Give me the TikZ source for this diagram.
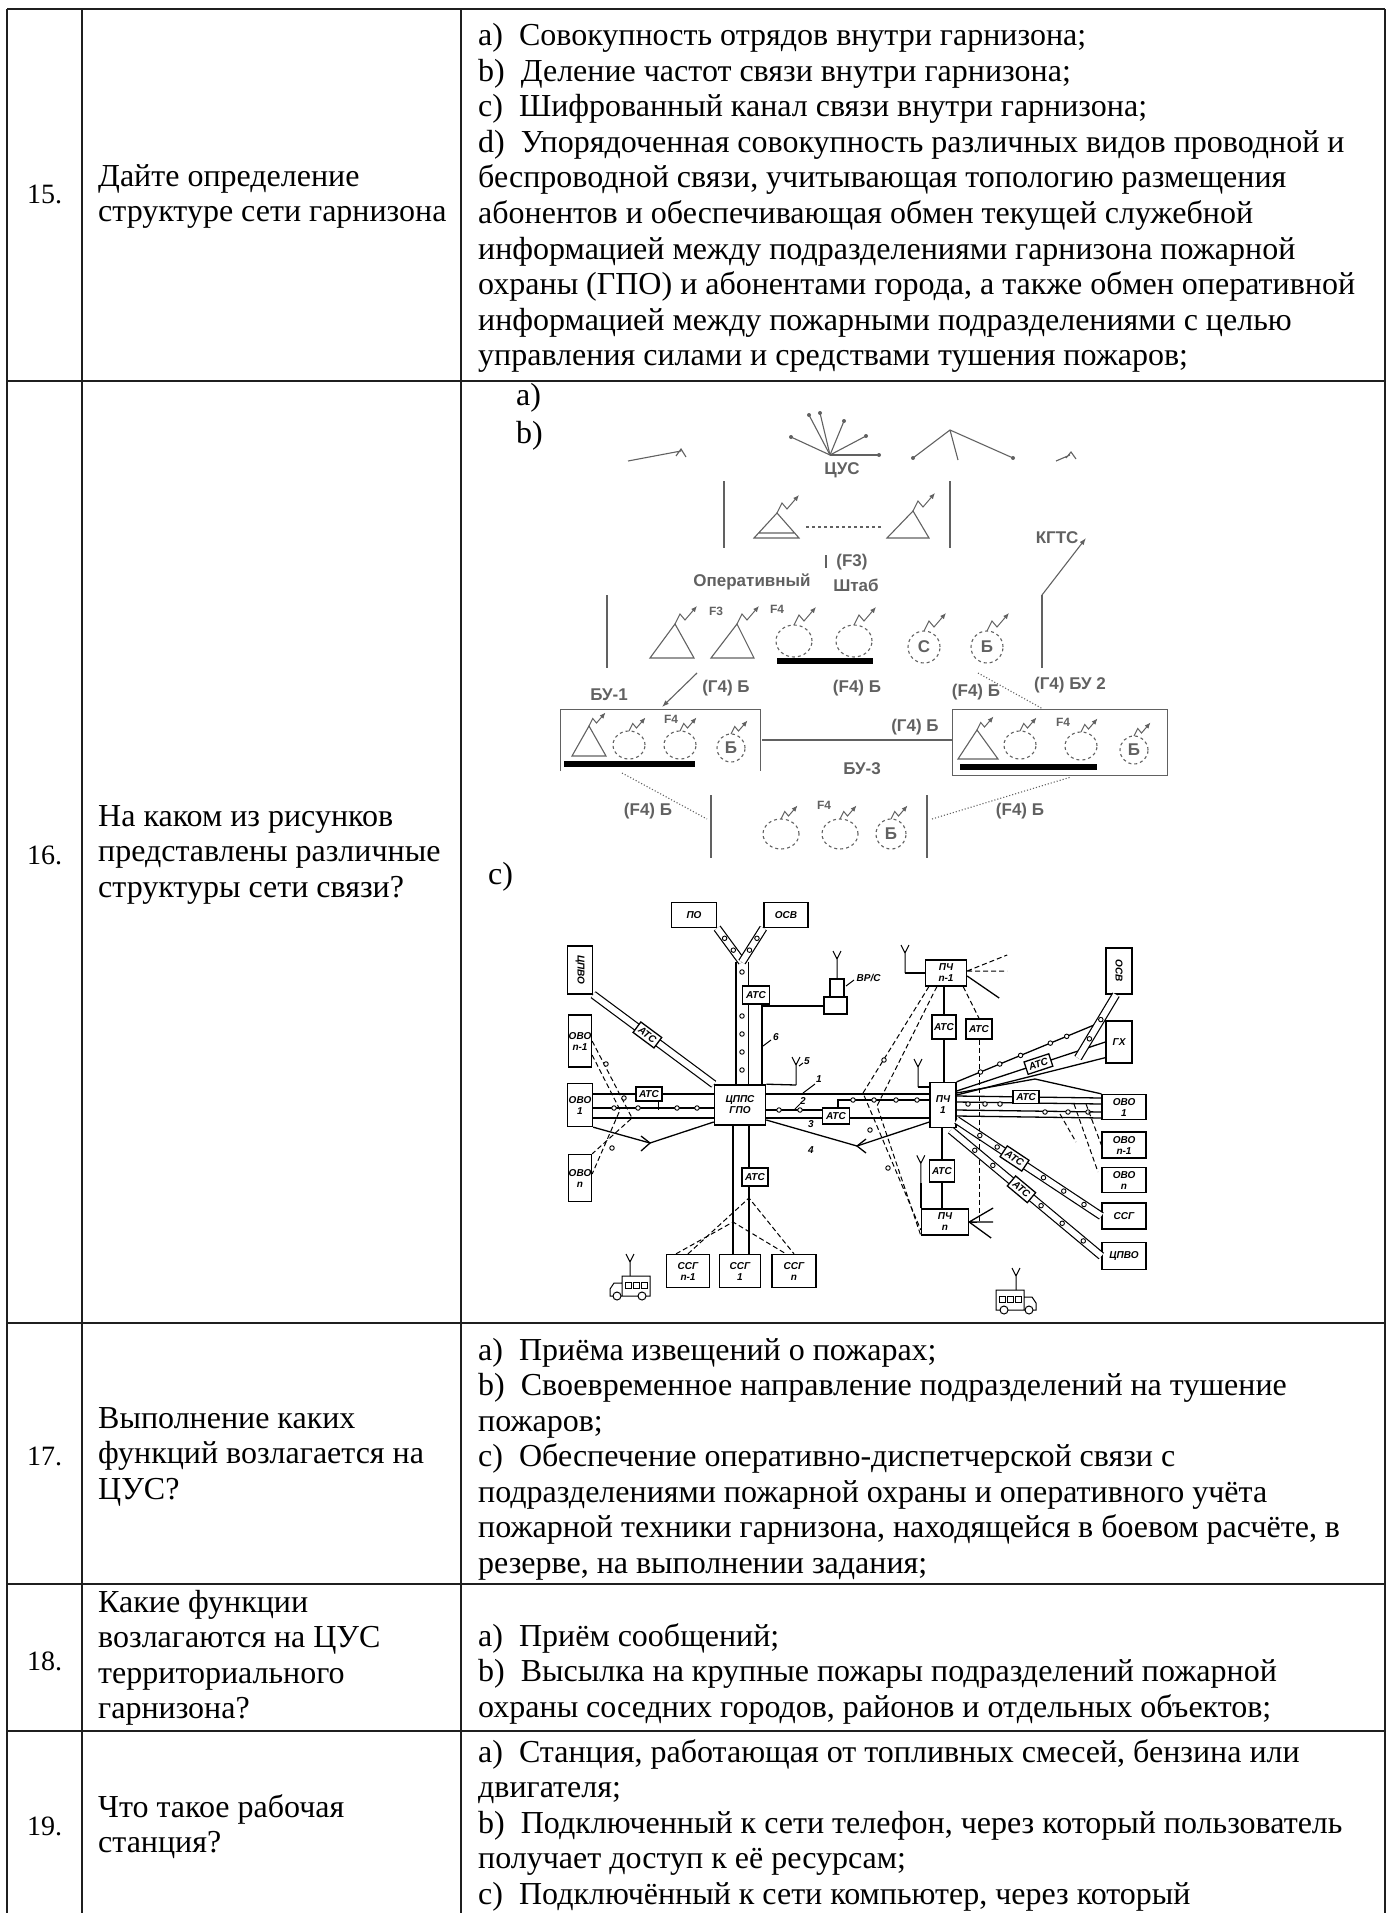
\documentclass[tikz,border=0pt]{standalone}
\usepackage{fontspec}
\setmainfont{Liberation Serif}
\setsansfont{Liberation Sans}
\usetikzlibrary{arrows.meta,calc}
\definecolor{SchClr}{rgb}{0.38,0.38,0.38}
\definecolor{LineClr}{rgb}{0.12,0.12,0.12}
\newcommand\cellfont{\fontsize{32}{35.5}\selectfont}
\newcommand\numfont{\fontsize{28}{32}\selectfont}
\newcommand\schfont{\sffamily\bfseries\fontsize{17}{18}\selectfont}
\newcommand\tinyfont{\sffamily\bfseries\fontsize{12}{12}\selectfont}
\newcommand\boxfont{\sffamily\itshape\bfseries\fontsize{10}{11}\selectfont}

\begin{document}
\begin{tikzpicture}[x=1pt,y=-1pt,
  tbl/.style={line width=1.8pt,LineClr},
  cell/.style={anchor=base west,inner sep=0pt,font=\cellfont},
  numlbl/.style={anchor=base west,inner sep=0pt,font=\numfont},
  schlbl/.style={inner sep=0pt,font=\schfont,text=SchClr},
  smlbl/.style={inner sep=0pt,font=\tinyfont,text=SchClr},
  bx/.style={draw,fill=white,line width=1.3pt,inner sep=0pt,font=\boxfont,align=center},
  sz/.style 2 args={minimum width=#1,minimum height=#2},
  odot/.style={circle,draw,fill=white,line width=.9pt,inner sep=0pt,minimum size=4.5pt},
  trk/.style={line width=1.3pt,double distance=11pt},
  trkb/.style={line width=1.2pt,double distance=6pt},
  dsh/.style={line width=1pt,dash pattern=on 5pt off 3pt},
  thickbar/.style={line width=6pt,black},
  antn/.pic={\draw[line width=1pt,-{Latex[length=6pt,width=5pt]}] (0,0) -- (5,-10) -- (10,-4) -- (22,-18);},
  mast/.pic={\draw[line width=1pt] (0,0) -- (0,-22) (-4,-28) -- (0,-20) -- (4,-28);},
  truck/.pic={\draw[line width=1pt] (0,0) rectangle (28,-20) (28,0) -- (28,-13) -- (36,-13) -- (40,-7) -- (40,0) -- cycle;
    \draw[line width=.8pt] (3,-8) rectangle (9,-14) (11,-8) rectangle (17,-14) (19,-8) rectangle (25,-14);
    \draw[line width=1pt,fill=white] (8,0) circle (4pt) (33,0) circle (4pt);
    \draw[line width=1pt] (20,-20) -- (20,-36) (16,-42) -- (20,-34) -- (24,-42);}]

\useasboundingbox (0,0) rectangle (1396,1913);

\draw[tbl] (7,9) -- (1385,9) (7,381) -- (1385,381) (7,1323) -- (1385,1323) (7,1584) -- (1385,1584) (7,1731) -- (1385,1731);
\draw[tbl] (7,9) -- (7,1913) (82,9) -- (82,1913) (461,9) -- (461,1913) (1385,9) -- (1385,1913);

\node[numlbl] (n15) at (27,204) {15.};
\foreach \t [count=\i from 0] in {Дайте определение,структуре сети гарнизона}
  \node[cell] (q15l\i) at (98,186+35.5*\i) {\t};
\foreach \t [count=\i from 0] in {{a)~~Совокупность отрядов внутри гарнизона;},
  {b)~~Деление частот связи внутри гарнизона;},
  {c)~~Шифрованный канал связи внутри гарнизона;},
  {d)~~Упорядоченная совокупность различных видов проводной и},
  {беспроводной связи, учитывающая топологию размещения},
  {абонентов и обеспечивающая обмен текущей служебной},
  {информацией между подразделениями гарнизона пожарной},
  {охраны (ГПО) и абонентами города, а также обмен оперативной},
  {информацией между пожарными подразделениями с целью},
  {управления силами и средствами тушения пожаров;}}
  \node[cell] (a15l\i) at (478,46+35.5*\i) {\t};

\node[numlbl] (n16) at (27,864) {16.};
\foreach \t [count=\i from 0] in {На каком из рисунков,представлены различные,структуры сети связи?}
  \node[cell] (q16l\i) at (98,826+35.5*\i) {\t};
\node[cell] (la) at (516,405) {a)};
\node[cell] (lb) at (516,443) {b)};
\node[cell] (lc) at (488,884) {c)};

\node[numlbl] (n17) at (27,1465) {17.};
\foreach \t [count=\i from 0] in {Выполнение каких,функций возлагается на,ЦУС?}
  \node[cell] (q17l\i) at (98,1428+35.5*\i) {\t};
\foreach \t [count=\i from 0] in {{a)~~Приёма извещений о пожарах;},
  {b)~~Своевременное направление подразделений на тушение},
  {пожаров;},
  {c)~~Обеспечение оперативно-диспетчерской связи с},
  {подразделениями пожарной охраны и оперативного учёта},
  {пожарной техники гарнизона, находящейся в боевом расчёте, в},
  {резерве, на выполнении задания;}}
  \node[cell] (a17l\i) at (478,1360+35.5*\i) {\t};

\node[numlbl] (n18) at (27,1670) {18.};
\foreach \t [count=\i from 0] in {Какие функции,возлагаются на ЦУС,территориального,гарнизона?}
  \node[cell] (q18l\i) at (98,1612+35.5*\i) {\t};
\foreach \t [count=\i from 0] in {{a)~~Приём сообщений;},
  {b)~~Высылка на крупные пожары подразделений пожарной},
  {охраны соседних городов, районов и отдельных объектов;}}
  \node[cell] (a18l\i) at (478,1646+35.5*\i) {\t};

\node[numlbl] (n19) at (27,1835) {19.};
\foreach \t [count=\i from 0] in {Что такое рабочая,станция?}
  \node[cell] (q19l\i) at (98,1817+35.5*\i) {\t};
\foreach \t [count=\i from 0] in {{a)~~Станция, работающая от топливных смесей, бензина или},
  {двигателя;},
  {b)~~Подключенный к сети телефон, через который пользователь},
  {получает доступ к её ресурсам;},
  {c)~~Подключённый к сети компьютер, через который}}
  \node[cell] (a19l\i) at (478,1762+35.5*\i) {\t};

\begin{scope}[SchClr,line width=1.1pt]
\draw (628,461) -- (681,451) (676,456) -- (681,449) -- (686,457);
\coordinate (cus) at (830,455);
\foreach \p in {(791,437),(809,415),(820,413),(844,421),(866,436),(879,455)}
  {\draw (cus) -- \p; \fill \p circle (2pt);}
\draw (913,458) -- (950,430) -- (1013,458) (950,430) -- (958,460);
\fill (913,458) circle (2pt) (1013,458) circle (2pt);
\draw (1056,461) -- (1070,455) (1066,458) -- (1071,452) -- (1076,459);
\node[schlbl] (cuslbl) at (842,470) {ЦУС};

\draw (724,481) -- (724,548) (950,481) -- (950,548);
\draw (754,538) -- (777,513) -- (799,538) -- cycle (758,533) -- (795,533);
\draw[dashed] (806,527) -- (881,527);
\draw (887,538) -- (913,511) -- (929,538) -- cycle;
\pic at (777,513) {antn};
\pic at (913,511) {antn};

\draw[-{Latex[length=7pt,width=5pt]}] (1042,595) -- (1086,538);
\node[schlbl,anchor=east] (kgts) at (1079,538) {КГТС};
\node[schlbl] (f3) at (852,562) {(F3)};
\draw (826,555) -- (826,568);
\node[schlbl] (oper) at (752,582) {Оперативный};
\node[schlbl] (shtab) at (856,585) {Штаб};

\draw (607,595) -- (607,668) (1042,595) -- (1042,668);
\draw (650,658) -- (675,624) -- (694,658) -- cycle;
\draw (711,658) -- (737,624) -- (754,658) -- cycle;
\draw[dashed] (794,641) ellipse (18pt and 16pt) (854,641) ellipse (18pt and 16pt);
\draw[thickbar] (777,661) -- (873,661);
\draw[dashed] (924,647) circle (16pt) (987,647) circle (16pt);
\node[schlbl] (opc) at (924,647) {С};
\node[schlbl] (opb) at (987,647) {Б};
\foreach \p in {(675,624),(737,624),(794,625),(854,625),(924,631),(987,631)}
  \pic at \p {antn};
\node[smlbl] (opf3) at (716,611) {F3};
\node[smlbl] (opf4) at (777,609) {F4};

\draw[-{Latex[length=7pt,width=5pt]}] (697,673) -- (662,707);
\node[schlbl] (g4a) at (726,688) {(Г4) Б};
\node[schlbl] (f4a) at (857,688) {(F4) Б};
\node[schlbl] (f4b) at (976,692) {(F4) Б};
\node[schlbl] (g4bu2) at (1070,685) {(Г4) БУ 2};
\draw[dotted] (978,673) -- (1043,709);
\node[schlbl] (bu1) at (609,695) {БУ-1};

\draw[line width=.8pt] (560,771) -- (560,709) -- (760,709) -- (760,771);
\draw (572,756) -- (589,726) -- (606,756) -- cycle;
\draw[dashed] (629,745) ellipse (16pt and 14pt) (680,745) ellipse (16pt and 14pt) (731,748) circle (14pt);
\node[schlbl] (bu1b) at (731,748) {Б};
\draw[thickbar] (564,764) -- (695,764);
\foreach \p in {(589,726),(629,731),(680,731),(731,734)}
  \pic[scale=.75] at \p {antn};
\node[smlbl] (bu1f4) at (671,719) {F4};

\draw (762,740) -- (952,740);
\node[schlbl] (g4b) at (915,727) {(Г4) Б};

\draw[line width=.8pt] (952,709) rectangle (1167,775);
\draw (958,759) -- (977,730) -- (998,759) -- cycle;
\draw[dashed] (1020,745) ellipse (16pt and 14pt) (1081,746) ellipse (16pt and 14pt) (1134,750) circle (14pt);
\node[schlbl] (bu2b) at (1134,750) {Б};
\draw[thickbar] (960,767) -- (1097,767);
\foreach \p in {(977,730),(1020,731),(1081,732),(1134,736)}
  \pic[scale=.75] at \p {antn};
\node[smlbl] (bu2f4) at (1063,722) {F4};

\node[schlbl] (bu3) at (862,769) {БУ-3};
\draw[dotted] (622,773) -- (707,819);
\node[schlbl] (f4c) at (648,811) {(F4) Б};
\draw[dotted] (932,819) -- (1071,777);
\node[schlbl] (f4d) at (1020,811) {(F4) Б};

\draw (711,795) -- (711,858) (927,795) -- (927,858);
\draw[dashed] (781,834) ellipse (18pt and 15pt) (840,834) ellipse (18pt and 15pt) (891,834) circle (15pt);
\node[schlbl] (bu3b) at (891,834) {Б};
\foreach \p in {(781,819),(840,819),(891,819)}
  \pic[scale=.75] at \p {antn};
\node[smlbl] (bu3f4) at (824,805) {F4};
\end{scope}

\begin{scope}[line width=1.3pt]
\node[bx,sz={45pt}{25pt}] (po) at (694,915) {ПО};
\node[bx,sz={44pt}{25pt}] (osvt) at (786,915) {ОСВ};
\node[bx,sz={48pt}{25pt},rotate=-90] (cpvol) at (580,970) {ЦПВО};
\node[bx,sz={23pt}{52pt}] (ovon1l) at (580,1041) {ОВО\\n-1};
\node[bx,sz={25pt}{43pt}] (ovo1l) at (580,1105) {ОВО\\1};
\node[bx,sz={23pt}{47pt}] (ovonl) at (580,1178) {ОВО\\n};
\node[bx,sz={51pt}{40pt},line width=1.6pt] (cpps) at (740,1105) {ЦППС\\ГПО};
\node[bx,sz={43pt}{33pt}] (ssgn1) at (688,1271) {ССГ\\n-1};
\node[bx,sz={41pt}{33pt}] (ssg1) at (740,1271) {ССГ\\1};
\node[bx,sz={44pt}{33pt}] (ssgn) at (794,1271) {ССГ\\n};
\node[bx,sz={41pt}{26pt}] (pchn1) at (946,973) {ПЧ\\n-1};
\node[bx,sz={24pt}{24pt}] (atcp1) at (944,1027) {АТС};
\node[bx,sz={26pt}{20pt}] (atcp2) at (979,1029) {АТС};
\node[bx,sz={26pt}{45pt}] (pch1) at (943,1105) {ПЧ\\1};
\node[bx,sz={25pt}{22pt}] (atcp3) at (942,1171) {АТС};
\node[bx,sz={47pt}{26pt}] (pchn) at (945,1222) {ПЧ\\n};
\node[bx,sz={46pt}{26pt},rotate=-90] (osvr) at (1119,971) {ОСВ};
\node[bx,sz={26pt}{42pt}] (gx) at (1119,1042) {ГХ};
\node[bx,sz={44pt}{25pt}] (ovo1r) at (1124,1107) {ОВО\\1};
\node[bx,sz={44pt}{26pt}] (ovon1r) at (1124,1145) {ОВО\\n-1};
\node[bx,sz={44pt}{25pt}] (ovonr) at (1124,1180) {ОВО\\n};
\node[bx,sz={44pt}{26pt}] (ssgr) at (1124,1216) {ССГ};
\node[bx,sz={44pt}{27pt}] (cpvor) at (1124,1256) {ЦПВО};

\coordinate (yj) at (742,962);
\draw[trk] (cpps.north -| yj) -- (yj);
\draw[trkb] (yj) -- (po.south east);
\draw[trkb] (yj) -- (osvt.south west);
\foreach \y [count=\k] in {972,1016,1034,1052,1070}
  \node[odot] (td\k) at (742,\y) {};
\foreach \t [count=\k] in {.35,.7}
  {\node[odot] (bp\k) at ($(yj)!\t!(po.south east)$) {};
   \node[odot] (bo\k) at ($(yj)!\t!(osvt.south west)$) {};}
\node[bx,sz={27pt}{18pt}] (atcv) at (756,995) {АТС};
\draw ([xshift=6pt]atcv.south) -- ([xshift=6pt]atcv.south |- cpps.north);
\coordinate (vrs) at (835,1006);
\draw[fill=white] (830,979) rectangle (844,997) (824,997) rectangle (847,1014);
\pic at (837,979) {mast};
\draw ([xshift=6pt]atcv.south |- vrs) -- (824,1006);
\node[font=\boxfont,inner sep=0pt,anchor=west] (vrsl) at (856,978) {ВР/С};
\draw[line width=1pt] (846,986) -- (854,980);

\draw[trkb] (cpvol.north east) -- node[bx,sloped,sz={26pt}{13pt},pos=.45] (atcd) {АТС} (cpps.north west);

\draw ($(ovo1l.east)+(0,-11)$) -- ($(cpps.west)+(0,-11)$);
\draw ($(ovo1l.east)+(0,3)$) -- ($(cpps.west)+(0,3)$);
\draw ($(ovo1l.east)+(0,13)$) -- ($(cpps.west)+(0,13)$);
\foreach \x [count=\k] in {614,638,677,697}
  \node[odot] (lm\k) at (\x,1108) {};
\node[bx,sz={26pt}{14pt}] (atcl) at (649,1094) {АТС};
\draw ($(atcl.south east)+(-4,0)$) -- ++(0,8);
\draw (ovo1l.south east) -- (650,1143) -- ($(cpps.west)+(0,17)$);
\draw (641,1136) -- (650,1143) -- (641,1151);
\draw[dsh] (ovon1l.east) -- (632,1118) -- (ovonl.north east);
\draw[dsh] ($(ovon1l.east)+(0,14)$) -- (620,1110) -- ($(ovonl.east)+(0,-4)$);
\foreach \p [count=\k] in {(606,1064),(624,1098),(612,1148)}
  \node[odot] (ld\k) at \p {};

\draw ($(cpps.south)+(-7,0)$) -- ($(ssg1.north)+(-7,0)$);
\draw ($(cpps.south)+(9,0)$) -- ($(ssg1.north)+(9,0)$);
\node[bx,sz={26pt}{18pt}] (atcb) at (755,1177) {АТС};
\coordinate (fa) at (749,1198);
\coordinate (fb) at (733,1222);
\draw[dsh] (ssgn1.north) -- (fa) -- (ssgn.north);
\draw[dsh] ($(ssgn1.north)+(-12,0)$) -- (fb) -- ($(ssgn.north)+(-8,0)$);

\draw ($(cpps.east)+(0,-11)$) -- ($(pch1.west)+(0,-11)$);
\draw ($(cpps.east)+(0,13)$) -- ($(pch1.west)+(0,13)$);
\draw ($(cpps.east)+(0,15)$) -- (857,1146) -- ($(pch1.west)+(0,17)$);
\draw (866,1139) -- (857,1146) -- (866,1153);
\node[bx,sz={27pt}{16pt}] (atcm) at (836,1116) {АТС};
\draw ($(cpps.east)+(0,5)$) -- ($(atcm.west)+(0,-6)$);
\draw ($(atcm.north)+(2,0)$) |- ($(pch1.west)+(0,-5)$);
\foreach \p [count=\k] in {(779,1110),(800,1110),(853,1100),(874,1100),(896,1100),(917,1100)}
  \node[odot] (cm\k) at \p {};
\draw (cpps.north east) -- (796,1085);
\pic at (796,1085) {mast};
\node[font=\boxfont,inner sep=0pt] (w1) at (819,1079) {1};
\node[font=\boxfont,inner sep=0pt] (w2) at (803,1101) {2};
\node[font=\boxfont,inner sep=0pt] (w3) at (811,1124) {3};
\node[font=\boxfont,inner sep=0pt] (w4) at (811,1150) {4};
\node[font=\boxfont,inner sep=0pt] (w5) at (807,1061) {5};
\node[font=\boxfont,inner sep=0pt] (w6) at (776,1037) {6};
\draw[line width=1pt] (803,1093) -- (815,1084) (795,1109) -- (800,1104) (799,1066) -- (803,1063) (763,1046) -- (771,1040);

\draw (pchn1.south -| atcp1.north) -- (atcp1.north);
\draw (atcp1.south) -- (pch1.north -| atcp1.south);
\draw (pch1.south -| atcp3.north) -- (atcp3.north);
\draw (atcp3.south) -- (pchn.north -| atcp3.south);
\draw[dsh] ($(pchn1.south east)+(-4,0)$) -- (atcp2.north);
\draw[dsh] (atcp2.south) |- (pchn.east);
\draw (pchn1.west) -- (905,973);
\pic at (905,973) {mast};
\draw ($(pch1.west)+(0,-18)$) -- (918,1087);
\pic at (918,1087) {mast};
\draw (pchn.north west) -- ++(0,-25);
\pic at ($(pchn.north west)+(0,-25)$) {mast};
\draw[dsh] ($(pchn1.east)+(0,-2)$) -- ++(40,-16) ($(pchn1.east)+(0,-2)$) -- ++(40,0);
\draw ($(pchn1.east)+(0,3)$) -- ++(32,22);
\draw (pchn.east) -- ++(24,-14) (pchn.east) -- ++(24,0) (pchn.east) -- ++(22,16);
\draw[dsh] ($(pchn1.south west)+(4,0)$) -- (863,1093) -- ($(pchn.west)+(0,8)$);
\draw[dsh] ($(pchn1.south west)+(12,0)$) -- (877,1106) -- (pchn.south west);
\foreach \p [count=\k] in {(884,1060),(870,1130),(888,1168)}
  \node[odot] (pd\k) at \p {};

\draw (pch1.north east) -- (gx.north west);
\foreach \t [count=\k] in {.16,.29,.43,.63,.74}
  \node[odot] (gd\k) at ($(pch1.north east)!\t!(gx.north west)$) {};
\draw ($(pch1.east)+(0,-14)$) -- node[bx,sloped,sz={26pt}{13pt},pos=.55] (atcr1) {АТС} (gx.west);
\draw ($(pch1.east)+(0,-10)$) -- ($(gx.south west)+(0,-6)$);
\draw[trkb] (1078,1058) -- ($(osvr.east)+(-3,0)$);
\foreach \t [count=\k] in {.3,.6}
  \node[odot] (od\k) at ($(1078,1058)!\t!(1116,994)$) {};
\draw ($(pch1.east)+(0,-12)$) -- (1035,1079) -- (ovo1r.north west);
\draw ($(pch1.east)+(0,-3)$) -- ($(ovo1r.west)+(0,-3)$);
\draw ($(pch1.east)+(0,5)$) -- ($(ovo1r.west)+(0,5)$);
\draw ($(pch1.east)+(0,11)$) -- ($(ovo1r.west)+(0,11)$);
\draw ($(pch1.east)+(0,-9)$) -- node[bx,sz={26pt}{13pt},pos=.48] (atcr2) {АТС} ($(ovo1r.west)+(0,-9)$);
\foreach \p [count=\k] in {(968,1104),(985,1104),(1000,1104),(1045,1112),(1068,1112),(1088,1112)}
  \node[odot] (rd\k) at \p {};
\draw[dsh] (1060,1114) -- (1076,1142) (1074,1104) -- (1098,1172) (1086,1104) -- (ovon1r.west);
\draw[trkb] ($(pch1.south east)+(0,-8)$) -- node[bx,sloped,sz={26pt}{13pt},pos=.40] (atcr3) {АТС} (ssgr.west);
\draw[trkb] ($(pch1.south east)+(-6,2)$) -- node[bx,sloped,sz={26pt}{13pt},pos=.47] (atcr4) {АТС} (cpvor.west);
\foreach \t [count=\k] in {.16,.28,.6,.74,.88}
  {\node[odot] (ta\k) at ($($(pch1.south east)+(0,-8)$)!\t!(ssgr.west)$) {};
   \node[odot] (tb\k) at ($($(pch1.south east)+(-6,2)$)!\t!(cpvor.west)$) {};}

\pic[xscale=-1] at (650,1296) {truck};
\pic at (996,1310) {truck};
\end{scope}
\end{tikzpicture}
\end{document}
